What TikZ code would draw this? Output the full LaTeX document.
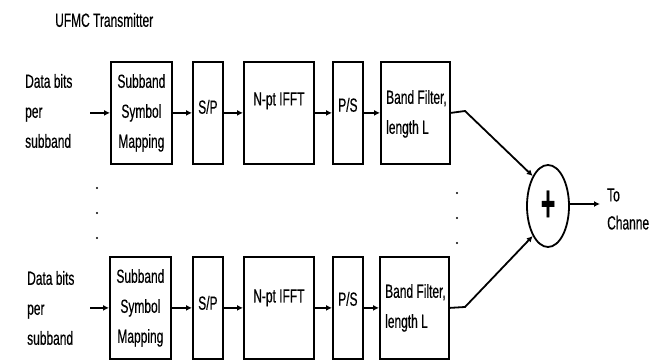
\documentclass[tikz,border=0pt]{standalone}
\usepackage{fontspec}
\setmainfont{Liberation Sans}[FakeStretch=0.63,FakeBold=0.4]
\usetikzlibrary{arrows.meta,shapes.geometric,calc}
\begin{document}
\begin{tikzpicture}[x=1pt,y=-1pt,
  every node/.style={font=\fontsize{19}{30}\selectfont},
  blk/.style={draw,line width=1.8pt,inner sep=0pt,anchor=north west},
  txt/.style={inner sep=0pt},
  arr/.style={line width=1.8pt,-{Latex[length=6pt,width=6pt]}},
  dotc/.style={circle,fill,inner sep=0pt,minimum size=2.4pt}]
\useasboundingbox (0,0) rectangle (667,363);
\node[txt,anchor=west] (title) at (55,20) {UFMC Transmitter};
% top row
\node[txt,anchor=west,align=left] (in1) at (25,111) {Data bits\\per\\subband};
\coordinate (s1) at (90,111);
\node[blk,minimum width=61pt,minimum height=102pt,align=center] (map1) at (110,61) {Subband\\Symbol\\Mapping};
\node[blk,minimum width=30pt,minimum height=102pt] (sp1) at (192,61) {};
\node[txt] (sp1t) at ($(sp1.center)+(0,-6)$) {S/P};
\node[blk,minimum width=70pt,minimum height=102pt] (fft1) at (243,61) {};
\node[txt] (fft1t) at ($(fft1.center)+(0,-12)$) {N-pt IFFT};
\node[blk,minimum width=30pt,minimum height=102pt] (ps1) at (332,61) {};
\node[txt] (ps1t) at ($(ps1.center)+(0,-8)$) {P/S};
\node[blk,minimum width=69pt,minimum height=102pt] (bf1) at (380,61) {};
\node[txt,anchor=west,align=left] (bf1t) at ($(bf1.west)+(6,1)$) {Band Filter,\\length L};
% bottom row
\node[txt,anchor=west,align=left] (in2) at (27,308) {Data bits\\per\\subband};
\coordinate (s2) at (90,307);
\node[blk,minimum width=61pt,minimum height=102pt,align=center] (map2) at (109,256) {Subband\\Symbol\\Mapping};
\node[blk,minimum width=30pt,minimum height=102pt] (sp2) at (192,256) {};
\node[txt] (sp2t) at ($(sp2.center)+(0,-5)$) {S/P};
\node[blk,minimum width=70pt,minimum height=102pt] (fft2) at (243,256) {};
\node[txt] (fft2t) at ($(fft2.center)+(0,-10)$) {N-pt IFFT};
\node[blk,minimum width=30pt,minimum height=102pt] (ps2) at (332,256) {};
\node[txt] (ps2t) at ($(ps2.center)+(0,-9)$) {P/S};
\node[blk,minimum width=69pt,minimum height=102pt] (bf2) at (379,256) {};
\node[txt,anchor=west,align=left] (bf2t) at ($(bf2.west)+(6,0)$) {Band Filter,\\length L};
% sum
\node[draw,ellipse,line width=1.8pt,minimum width=42pt,minimum height=82pt,inner sep=0pt] (sum) at (548,206) {};
\node[txt,font=\fontsize{52}{52}\bfseries\selectfont] (plus) at (548,206) {\scalebox{0.75}[1]{+}};
\coordinate (k1) at (465,111);
\coordinate (k2) at (465,307);
\coordinate (out) at (600,204);
\node[txt,anchor=west,align=left,font=\fontsize{19}{28}\selectfont] (ch) at (607,209) {To\\Channe};
% connectors
\foreach \a/\b in {s1/map1,map1/sp1,sp1/fft1,fft1/ps1,ps1/bf1,s2/map2,map2/sp2,sp2/fft2,fft2/ps2,ps2/bf2}
  \draw[arr] (\a.east |- \b.west) -- (\b.west);
\draw[arr] (bf1.east) -- (k1) -- (sum.117);
\draw[arr] (bf2.east) -- (k2) -- (sum.243);
\draw[arr] (sum.east |- out) -- (out);
% dots
\foreach \y [count=\i] in {188,213,238} {
  \node[dotc] (dl\i) at (97,\y) {};
  \node[dotc] (dr\i) at (457,\y+5) {};
}
\end{tikzpicture}
\end{document}
